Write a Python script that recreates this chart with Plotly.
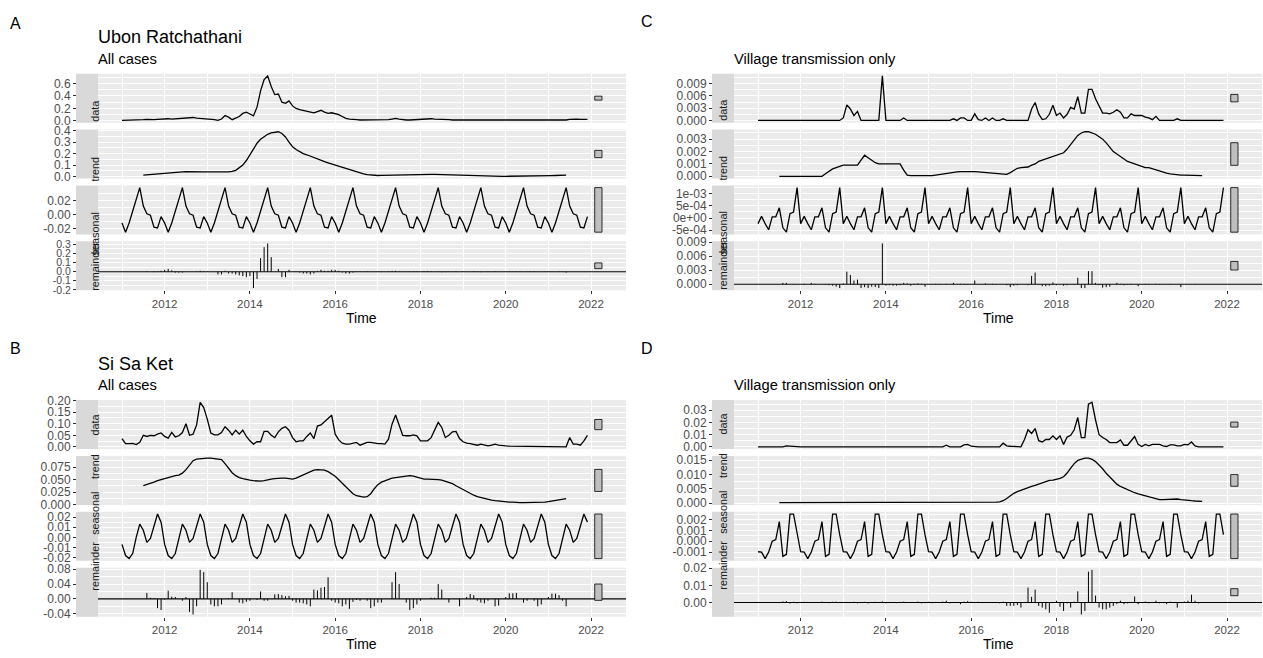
import plotly.graph_objects as go

W, H = 1263, 658
FONT = "Liberation Sans, Arial, sans-serif"

# ---------------------------------------------------------------- data
START_YEAR = 2011
N_MONTHS = 132          # Jan 2011 .. Dec 2021, monthly
PARTIAL_START = 6       # trend / remainder defined Jul 2011 .. Jun 2021
PARTIAL_END = 126

COMPONENTS = ["data", "trend", "seasonal", "remainder"]
TIME_TICKS = [2012, 2014, 2016, 2018, 2020, 2022]
TIME_TICK_TEXT = ["2012", "2014", "2016", "2018", "2020", "2022"]

# ---- A: Ubon Ratchathani, all cases
A_data = [
    0.010, 0.010, 0.010, 0.010, 0.012, 0.015, 0.020, 0.025, 0.020, 0.020, 0.025, 0.030,
    0.040, 0.035, 0.030, 0.035, 0.040, 0.035, 0.040, 0.050, 0.055, 0.045, 0.040, 0.040,
    0.040, 0.035, 0.020, 0.008, 0.030, 0.085, 0.060, 0.020, 0.040, 0.070, 0.120, 0.140,
    0.110, 0.080, 0.220, 0.480, 0.660, 0.720, 0.550, 0.420, 0.430, 0.300, 0.280, 0.320,
    0.240, 0.200, 0.180, 0.170, 0.150, 0.140, 0.130, 0.150, 0.170, 0.140, 0.120, 0.130,
    0.120, 0.100, 0.070, 0.040, 0.030, 0.020, 0.020, 0.015, 0.015, 0.015, 0.015, 0.020,
    0.020, 0.015, 0.015, 0.020, 0.030, 0.040, 0.030, 0.020, 0.015, 0.015, 0.020, 0.020,
    0.020, 0.025, 0.030, 0.035, 0.030, 0.030, 0.025, 0.020, 0.020, 0.015, 0.015, 0.012,
    0.010, 0.010, 0.010, 0.010, 0.010, 0.010, 0.010, 0.010, 0.010, 0.010, 0.008, 0.008,
    0.008, 0.008, 0.008, 0.008, 0.008, 0.008, 0.008, 0.008, 0.008, 0.008, 0.008, 0.008,
    0.010, 0.010, 0.012, 0.015, 0.015, 0.015, 0.025, 0.030, 0.030, 0.025, 0.020, 0.025,
]
A_trend = [
    0.014, 0.017, 0.020, 0.023, 0.026, 0.029,
    0.032, 0.035, 0.037, 0.039, 0.041, 0.042, 0.043, 0.044, 0.044, 0.044, 0.043, 0.042,
    0.041, 0.040, 0.040, 0.040, 0.041, 0.041, 0.042, 0.045, 0.055, 0.075, 0.100, 0.140,
    0.190, 0.240, 0.290, 0.325, 0.350, 0.368, 0.380, 0.388, 0.390, 0.375, 0.345, 0.300,
    0.260, 0.235, 0.215, 0.200, 0.190, 0.177, 0.165, 0.152, 0.140, 0.130, 0.120, 0.110,
    0.100, 0.090, 0.080, 0.070, 0.060, 0.050, 0.040, 0.032, 0.025, 0.018, 0.014, 0.011,
    0.010, 0.011, 0.012, 0.013, 0.014, 0.015, 0.016, 0.017, 0.018, 0.019, 0.020, 0.020,
    0.021, 0.021, 0.020, 0.020, 0.019, 0.018, 0.016, 0.015, 0.013, 0.012, 0.011, 0.010,
    0.009, 0.008, 0.007, 0.006, 0.005, 0.005, 0.004, 0.004, 0.004, 0.003, 0.003, 0.003,
    0.003, 0.003, 0.003, 0.003, 0.003, 0.003, 0.003, 0.004, 0.004, 0.005, 0.006, 0.007,
    0.008, 0.009, 0.010, 0.011, 0.012, 0.013,
]
A_seasonal = [
    -0.012, -0.025, -0.012, 0.005, 0.022, 0.038, 0.012, 0.001, -0.001, -0.018, -0.019, -0.003,
    -0.012, -0.025, -0.012, 0.005, 0.022, 0.038, 0.012, 0.001, -0.001, -0.018, -0.019, -0.003,
    -0.012, -0.025, -0.012, 0.005, 0.022, 0.038, 0.012, 0.001, -0.001, -0.018, -0.019, -0.003,
    -0.012, -0.025, -0.012, 0.005, 0.022, 0.038, 0.012, 0.001, -0.001, -0.018, -0.019, -0.003,
    -0.012, -0.025, -0.012, 0.005, 0.022, 0.038, 0.012, 0.001, -0.001, -0.018, -0.019, -0.003,
    -0.012, -0.025, -0.012, 0.005, 0.022, 0.038, 0.012, 0.001, -0.001, -0.018, -0.019, -0.003,
    -0.012, -0.025, -0.012, 0.005, 0.022, 0.038, 0.012, 0.001, -0.001, -0.018, -0.019, -0.003,
    -0.012, -0.025, -0.012, 0.005, 0.022, 0.038, 0.012, 0.001, -0.001, -0.018, -0.019, -0.003,
    -0.012, -0.025, -0.012, 0.005, 0.022, 0.038, 0.012, 0.001, -0.001, -0.018, -0.019, -0.003,
    -0.012, -0.025, -0.012, 0.005, 0.022, 0.038, 0.012, 0.001, -0.001, -0.018, -0.019, -0.003,
    -0.012, -0.025, -0.012, 0.005, 0.022, 0.038, 0.012, 0.001, -0.001, -0.018, -0.019, -0.003,
]
A_remainder = [
    0.000, 0.005, 0.000, -0.005, 0.005, 0.010,
    0.020, 0.030, 0.015, -0.010, -0.010, -0.010, 0.000, 0.003, 0.000, 0.005, 0.010, 0.005,
    0.005, 0.000, 0.000, -0.030, -0.030, 0.010, -0.020, -0.020, -0.030, -0.040, -0.050, -0.060,
    -0.050, -0.180, -0.080, 0.150, 0.270, 0.310, 0.160, 0.000, 0.030, -0.060, -0.060, 0.020,
    0.000, 0.003, -0.010, -0.020, -0.020, -0.030, -0.020, 0.010, 0.020, 0.010, 0.010, 0.020,
    0.020, 0.010, -0.010, -0.020, -0.020, -0.010, 0.005, 0.003, -0.003, 0.005, 0.003, 0.000,
    0.003, -0.005, 0.000, 0.005, 0.008, 0.010, 0.005, -0.003, 0.000, 0.003, 0.005, 0.004,
    0.003, 0.006, 0.008, 0.003, 0.000, -0.004, -0.006, -0.005, 0.005, 0.003, 0.005, 0.000,
    0.003, 0.002, 0.000, 0.005, -0.003, -0.005, 0.000, 0.003, 0.002, 0.005, 0.000, -0.003,
    0.002, 0.005, 0.004, 0.003, -0.003, 0.000, 0.002, 0.004, 0.005, 0.000, -0.002, 0.003,
    0.004, 0.003, 0.000, 0.004, -0.003, -0.010,
]
A_tickvals = [[0, 0.2, 0.4, 0.6], [0, 0.1, 0.2, 0.3, 0.4], [-0.02, 0, 0.02],
              [-0.2, -0.1, 0, 0.1, 0.2, 0.3]]
A_ticktext = [["0.0", "0.2", "0.4", "0.6"], ["0.0", "0.1", "0.2", "0.3", "0.4"],
              ["-0.02", "0.00", "0.02"], ["-0.2", "-0.1", "0.0", "0.1", "0.2", "0.3"]]

# ---- B: Si Sa Ket, all cases
B_data = [
    0.036, 0.014, 0.014, 0.015, 0.010, 0.020, 0.050, 0.045, 0.050, 0.048, 0.055, 0.060,
    0.045, 0.038, 0.063, 0.043, 0.048, 0.062, 0.100, 0.050, 0.055, 0.095, 0.193, 0.170,
    0.120, 0.060, 0.052, 0.052, 0.062, 0.087, 0.072, 0.052, 0.072, 0.055, 0.072, 0.045,
    0.026, 0.012, 0.022, 0.022, 0.067, 0.067, 0.050, 0.040, 0.065, 0.080, 0.087, 0.072,
    0.040, 0.022, 0.026, 0.026, 0.045, 0.060, 0.036, 0.090, 0.095, 0.108, 0.123, 0.137,
    0.055, 0.030, 0.016, 0.012, 0.012, 0.015, 0.019, 0.007, 0.014, 0.019, 0.019, 0.016,
    0.014, 0.014, 0.012, 0.033, 0.098, 0.138, 0.098, 0.050, 0.048, 0.048, 0.052, 0.048,
    0.026, 0.026, 0.026, 0.040, 0.070, 0.106, 0.084, 0.040, 0.050, 0.065, 0.067, 0.036,
    0.022, 0.016, 0.014, 0.012, 0.007, 0.012, 0.007, 0.004, 0.007, 0.012, 0.007, 0.007,
    0.004, 0.003, 0.003, 0.002, 0.003, 0.002, 0.002, 0.002, 0.003, 0.003, 0.002, 0.003,
    0.002, 0.003, 0.003, 0.002, 0.002, 0.000, 0.040, 0.012, 0.012, 0.007, 0.026, 0.050,
]
B_trend = [
    0.038, 0.040, 0.043, 0.045, 0.048, 0.050,
    0.053, 0.055, 0.057, 0.058, 0.059, 0.063, 0.070, 0.080, 0.088, 0.091, 0.092, 0.093,
    0.093, 0.093, 0.092, 0.092, 0.090, 0.082, 0.072, 0.064, 0.058, 0.054, 0.052, 0.050,
    0.049, 0.048, 0.047, 0.047, 0.048, 0.050, 0.051, 0.052, 0.053, 0.053, 0.053, 0.052,
    0.051, 0.053, 0.056, 0.059, 0.062, 0.066, 0.069, 0.070, 0.070, 0.069, 0.066, 0.062,
    0.057, 0.050, 0.043, 0.035, 0.028, 0.022, 0.018, 0.016, 0.015, 0.016, 0.022, 0.032,
    0.040, 0.045, 0.048, 0.051, 0.053, 0.054, 0.055, 0.056, 0.057, 0.058, 0.057, 0.055,
    0.052, 0.051, 0.051, 0.051, 0.051, 0.050, 0.049, 0.047, 0.045, 0.042, 0.038, 0.034,
    0.030, 0.026, 0.022, 0.019, 0.016, 0.014, 0.012, 0.010, 0.009, 0.008, 0.007, 0.006,
    0.006, 0.005, 0.005, 0.004, 0.004, 0.004, 0.004, 0.004, 0.004, 0.004, 0.004, 0.005,
    0.006, 0.007, 0.009, 0.010, 0.011, 0.012,
]
B_seasonal = [
    -0.007, -0.018, -0.021, -0.016, 0.000, 0.013, 0.007, -0.005, -0.001, 0.010, 0.023, 0.015,
    -0.007, -0.018, -0.021, -0.016, 0.000, 0.013, 0.007, -0.005, -0.001, 0.010, 0.023, 0.015,
    -0.007, -0.018, -0.021, -0.016, 0.000, 0.013, 0.007, -0.005, -0.001, 0.010, 0.023, 0.015,
    -0.007, -0.018, -0.021, -0.016, 0.000, 0.013, 0.007, -0.005, -0.001, 0.010, 0.023, 0.015,
    -0.007, -0.018, -0.021, -0.016, 0.000, 0.013, 0.007, -0.005, -0.001, 0.010, 0.023, 0.015,
    -0.007, -0.018, -0.021, -0.016, 0.000, 0.013, 0.007, -0.005, -0.001, 0.010, 0.023, 0.015,
    -0.007, -0.018, -0.021, -0.016, 0.000, 0.013, 0.007, -0.005, -0.001, 0.010, 0.023, 0.015,
    -0.007, -0.018, -0.021, -0.016, 0.000, 0.013, 0.007, -0.005, -0.001, 0.010, 0.023, 0.015,
    -0.007, -0.018, -0.021, -0.016, 0.000, 0.013, 0.007, -0.005, -0.001, 0.010, 0.023, 0.015,
    -0.007, -0.018, -0.021, -0.016, 0.000, 0.013, 0.007, -0.005, -0.001, 0.010, 0.023, 0.015,
    -0.007, -0.018, -0.021, -0.016, 0.000, 0.013, 0.007, -0.005, -0.001, 0.010, 0.023, 0.015,
]
B_remainder = [
    0.000, 0.016, 0.003, 0.002, -0.025, -0.030,
    -0.002, 0.022, 0.006, 0.005, 0.000, -0.005, 0.005, -0.035, -0.042, -0.020, 0.078, 0.072,
    0.045, -0.015, -0.020, -0.020, -0.015, 0.000, 0.002, 0.018, 0.000, -0.010, -0.012, -0.008,
    -0.005, 0.000, -0.003, 0.020, -0.005, -0.005, 0.000, 0.012, 0.013, 0.010, 0.007, 0.008,
    -0.005, -0.010, -0.010, -0.012, -0.015, -0.020, 0.025, 0.023, 0.030, 0.032, 0.058, -0.005,
    -0.010, -0.012, -0.020, -0.015, -0.027, -0.008, -0.003, -0.005, 0.000, -0.005, -0.025, -0.020,
    -0.010, -0.010, 0.000, 0.000, 0.045, 0.072, 0.040, 0.000, -0.010, -0.030, -0.025, -0.015,
    -0.005, 0.000, 0.000, 0.003, 0.003, 0.040, 0.025, 0.000, -0.010, 0.000, 0.000, -0.020,
    0.000, 0.005, 0.013, 0.010, -0.005, -0.010, -0.012, -0.005, 0.000, -0.020, -0.018, 0.000,
    0.005, 0.015, 0.015, 0.016, 0.000, -0.010, -0.005, 0.000, -0.005, -0.020, -0.015, 0.000,
    0.005, 0.014, 0.014, 0.010, -0.005, -0.020,
]
B_tickvals = [[0, 0.05, 0.10, 0.15, 0.20], [0, 0.025, 0.05, 0.075],
              [-0.02, -0.01, 0, 0.01, 0.02], [-0.04, 0, 0.04, 0.08]]
B_ticktext = [["0.00", "0.05", "0.10", "0.15", "0.20"], ["0.000", "0.025", "0.050", "0.075"],
              ["-0.02", "-0.01", "0.00", "0.01", "0.02"], ["-0.04", "0.00", "0.04", "0.08"]]

# ---- C: Ubon Ratchathani, village transmission only
C_data = [
    0, 0, 0, 0, 0, 0, 0, 0, 0, 0, 0, 0,
    0, 0, 0, 0, 0, 0, 0, 0, 0, 0, 0, 0,
    0.0006, 0.0038, 0.0028, 0.0012, 0.0022, 0, 0, 0, 0, 0, 0, 0.0109,
    0, 0, 0, 0, 0, 0.0006, 0, 0, 0, 0, 0, 0,
    0, 0, 0, 0, 0, 0, 0, 0.0004, 0, 0.0006, 0.0006, 0,
    0, 0.0016, 0.0002, 0, 0.0006, 0, 0.0006, 0, 0, 0.0004, 0, 0,
    0, 0, 0, 0, 0, 0.0028, 0.0044, 0.0016, 0.0002, 0.0004, 0.0015, 0.0037,
    0.0012, 0.0018, 0.0006, 0.0015, 0.0032, 0.0028, 0.0058, 0.0018, 0.0018, 0.0076, 0.0076, 0.0053,
    0.0036, 0.0018, 0.0018, 0.0016, 0.0020, 0.0026, 0.0020, 0.0006, 0.0006, 0.0016, 0.0012, 0.0012,
    0.0012, 0.0008, 0.0006, 0.0002, 0.0010, 0, 0, 0, 0, 0, 0.0004, 0,
    0, 0, 0, 0, 0, 0, 0, 0, 0, 0, 0, 0,
]
C_trend = [
    0, 0, 0, 0, 0, 0,
    0, 0, 0, 0, 0, 0, 0, 0.0002, 0.0004, 0.0006, 0.0007, 0.0008,
    0.0009, 0.0009, 0.0009, 0.0009, 0.0009, 0.0013, 0.0017, 0.0015, 0.0013, 0.0011, 0.0010, 0.0010,
    0.0010, 0.0010, 0.0010, 0.0010, 0.0010, 0.0005, 0.0001, 0.00005, 0.00005, 0.00005, 0, 0,
    0, 0.00005, 0.0001, 0.00015, 0.0002, 0.00025, 0.0003, 0.00033, 0.00035, 0.00037, 0.00038, 0.00038,
    0.00038, 0.00037, 0.00035, 0.00033, 0.0003, 0.00027, 0.00024, 0.0002, 0.00017, 0.00015, 0.00016, 0.0003,
    0.0005, 0.00065, 0.0007, 0.0007, 0.00075, 0.0009, 0.0010, 0.0012, 0.0013, 0.0014, 0.0015, 0.0016,
    0.0017, 0.0018, 0.0019, 0.0022, 0.0026, 0.0030, 0.0033, 0.0035, 0.0036, 0.0036, 0.0035, 0.0034,
    0.0032, 0.0030, 0.0027, 0.0023, 0.0020, 0.0018, 0.0016, 0.0014, 0.0012, 0.0011, 0.0010, 0.0009,
    0.0008, 0.0007, 0.0007, 0.0006, 0.0005, 0.0004, 0.0003, 0.00025, 0.0002, 0.00015, 0.0001, 0.0001,
    0.0001, 0.00008, 0.00006, 0.00005, 0.00005, 0.00005,
]
C_seasonal = [
    -0.00023, 0.00007, -0.00023, -0.00048, 0.00005, 0.00005, 0.00042, -0.0004, -0.00058, 0.00018, 0.00025, 0.00125,
    -0.00023, 0.00007, -0.00023, -0.00048, 0.00005, 0.00005, 0.00042, -0.0004, -0.00058, 0.00018, 0.00025, 0.00125,
    -0.00023, 0.00007, -0.00023, -0.00048, 0.00005, 0.00005, 0.00042, -0.0004, -0.00058, 0.00018, 0.00025, 0.00125,
    -0.00023, 0.00007, -0.00023, -0.00048, 0.00005, 0.00005, 0.00042, -0.0004, -0.00058, 0.00018, 0.00025, 0.00125,
    -0.00023, 0.00007, -0.00023, -0.00048, 0.00005, 0.00005, 0.00042, -0.0004, -0.00058, 0.00018, 0.00025, 0.00125,
    -0.00023, 0.00007, -0.00023, -0.00048, 0.00005, 0.00005, 0.00042, -0.0004, -0.00058, 0.00018, 0.00025, 0.00125,
    -0.00023, 0.00007, -0.00023, -0.00048, 0.00005, 0.00005, 0.00042, -0.0004, -0.00058, 0.00018, 0.00025, 0.00125,
    -0.00023, 0.00007, -0.00023, -0.00048, 0.00005, 0.00005, 0.00042, -0.0004, -0.00058, 0.00018, 0.00025, 0.00125,
    -0.00023, 0.00007, -0.00023, -0.00048, 0.00005, 0.00005, 0.00042, -0.0004, -0.00058, 0.00018, 0.00025, 0.00125,
    -0.00023, 0.00007, -0.00023, -0.00048, 0.00005, 0.00005, 0.00042, -0.0004, -0.00058, 0.00018, 0.00025, 0.00125,
    -0.00023, 0.00007, -0.00023, -0.00048, 0.00005, 0.00005, 0.00042, -0.0004, -0.00058, 0.00018, 0.00025, 0.00125,
]
C_remainder = [
    0.0, 0.0003, 0.0003, 0.0, -0.0001, 0.0,
    0.0, 0.0001, 0.0, 0.0003, 0.0001, 0.0, 0.0, -0.0001, -0.0002, -0.0003, -0.0005, -0.0008,
    0.0002, 0.0027, 0.0020, 0.0008, 0.0010, -0.0008, -0.0006, -0.0008, -0.0005, -0.0006, -0.0008, 0.0087,
    -0.0003, -0.0002, -0.0003, -0.0003, -0.0002, 0.0003, 0.0002, -0.0003, 0.0001, 0.0002, 0.0001, -0.0005,
    0.0, 0.0, 0.0001, -0.0001, 0.0, 0.0001, 0.0, 0.0003, 0.0, 0.0001, 0.0001, -0.0001,
    0.0, 0.0008, 0.0, 0.0, 0.0002, 0.0, 0.0001, -0.0001, 0.0, 0.0, -0.0002, -0.0006,
    -0.0003, -0.0002, 0.0, 0.0, -0.0002, 0.0018, 0.0025, -0.0001, -0.0004, -0.0004, -0.0003, 0.0004,
    -0.0002, 0.0, -0.0003, -0.0002, 0.0, -0.0001, 0.0014, -0.0008, -0.0008, 0.0028, 0.0028, 0.0003,
    -0.0002, -0.0007, -0.0006, -0.0005, 0.0, 0.0003, 0.0001, -0.0002, -0.0001, 0.0001, 0.0, -0.0004,
    0.0, 0.0001, -0.0001, 0.0, 0.0001, -0.0001, 0.0, 0.0, -0.0001, 0.0, 0.0, -0.0006,
    0.0, 0.0, 0.0, -0.0001, 0.0, 0.0,
]
C_tickvals = [[0, 0.003, 0.006, 0.009], [0, 0.001, 0.002, 0.003],
              [-0.0005, 0, 0.0005, 0.001], [0, 0.003, 0.006, 0.009]]
C_ticktext = [["0.000", "0.003", "0.006", "0.009"], ["0.000", "0.001", "0.002", "0.003"],
              ["-5e-04", "0e+00", "5e-04", "1e-03"], ["0.000", "0.003", "0.006", "0.009"]]

# ---- D: Si Sa Ket, village transmission only
D_data = [
    0, 0, 0, 0, 0, 0, 0, 0, 0.0008, 0.0005, 0, 0,
    0, 0, 0, 0, 0, 0, 0, 0, 0, 0, 0, 0,
    0, 0, 0, 0, 0, 0, 0, 0, 0, 0, 0, 0.0005,
    0, 0, 0, 0, 0, 0, 0, 0, 0, 0.0005, 0, 0,
    0, 0, 0, 0, 0, 0.0013, 0, 0, 0, 0, 0.0016, 0.0020,
    0.0005, 0, 0, 0, 0, 0, 0, 0, 0, 0.0030, 0.0008, 0.0005,
    0.0005, 0.0005, 0, 0.0060, 0.0140, 0.0110, 0.0150, 0.0050, 0.0040, 0.0060, 0.0060, 0.0090,
    0.0060, 0.0090, 0.0020, 0.0080, 0.0095, 0.0140, 0.0240, 0.0076, 0.0076, 0.0350, 0.0365, 0.0220,
    0.0100, 0.0076, 0.0060, 0.0035, 0.0035, 0.0035, 0.0057, 0.0013, 0.0013, 0.0050, 0.0084, 0.0020,
    0.0003, 0.0020, 0.0008, 0.0020, 0.0020, 0.0020, 0.0008, 0.0003, 0.0016, 0.0016, 0.0008, 0.0008,
    0.0020, 0.0016, 0.0040, 0.0008, 0, 0, 0, 0, 0, 0, 0, 0,
]
D_trend = [
    0.0001, 0.0001, 0.0001, 0.0001, 0.0001, 0.0001,
    0.0001, 0.0001, 0.0001, 0.0001, 0.0001, 0.0001, 0.0001, 0.0001, 0.0001, 0.0001, 0.0001, 0.0001,
    0.0001, 0.0001, 0.0001, 0.0001, 0.0001, 0.0001, 0.0001, 0.0001, 0.0001, 0.0001, 0.0001, 0.0001,
    0.0001, 0.0001, 0.0001, 0.0001, 0.0001, 0.0001, 0.0001, 0.0001, 0.0001, 0.0001, 0.00015, 0.0002,
    0.0002, 0.00025, 0.0003, 0.0003, 0.0003, 0.0003, 0.0003, 0.0003, 0.0003, 0.0003, 0.0003, 0.0003,
    0.0003, 0.0003, 0.0003, 0.0003, 0.0003, 0.0003, 0.0003, 0.0003, 0.0004, 0.0008, 0.0016, 0.0026,
    0.0034, 0.0040, 0.0045, 0.0050, 0.0054, 0.0058, 0.0062, 0.0066, 0.0071, 0.0076, 0.0079, 0.0080,
    0.0082, 0.0086, 0.0092, 0.0105, 0.0122, 0.0138, 0.0149, 0.0154, 0.0157, 0.0157, 0.0153, 0.0145,
    0.0134, 0.0120, 0.0104, 0.0090, 0.0076, 0.0066, 0.0058, 0.0052, 0.0046, 0.0041, 0.0036, 0.0032,
    0.0029, 0.0026, 0.0023, 0.0020, 0.0016, 0.0012, 0.0012, 0.0013, 0.0014, 0.0015, 0.0014, 0.0012,
    0.0010, 0.0009, 0.0008, 0.0007, 0.0006, 0.0006,
]
D_seasonal = [
    -0.00097, -0.001, -0.0016, -0.001, 0.0, 0.00015, 0.0018, -0.0014, -0.0012, 0.0025, 0.0025, 0.0006,
    -0.00097, -0.001, -0.0016, -0.001, 0.0, 0.00015, 0.0018, -0.0014, -0.0012, 0.0025, 0.0025, 0.0006,
    -0.00097, -0.001, -0.0016, -0.001, 0.0, 0.00015, 0.0018, -0.0014, -0.0012, 0.0025, 0.0025, 0.0006,
    -0.00097, -0.001, -0.0016, -0.001, 0.0, 0.00015, 0.0018, -0.0014, -0.0012, 0.0025, 0.0025, 0.0006,
    -0.00097, -0.001, -0.0016, -0.001, 0.0, 0.00015, 0.0018, -0.0014, -0.0012, 0.0025, 0.0025, 0.0006,
    -0.00097, -0.001, -0.0016, -0.001, 0.0, 0.00015, 0.0018, -0.0014, -0.0012, 0.0025, 0.0025, 0.0006,
    -0.00097, -0.001, -0.0016, -0.001, 0.0, 0.00015, 0.0018, -0.0014, -0.0012, 0.0025, 0.0025, 0.0006,
    -0.00097, -0.001, -0.0016, -0.001, 0.0, 0.00015, 0.0018, -0.0014, -0.0012, 0.0025, 0.0025, 0.0006,
    -0.00097, -0.001, -0.0016, -0.001, 0.0, 0.00015, 0.0018, -0.0014, -0.0012, 0.0025, 0.0025, 0.0006,
    -0.00097, -0.001, -0.0016, -0.001, 0.0, 0.00015, 0.0018, -0.0014, -0.0012, 0.0025, 0.0025, 0.0006,
    -0.00097, -0.001, -0.0016, -0.001, 0.0, 0.00015, 0.0018, -0.0014, -0.0012, 0.0025, 0.0025, 0.0006,
]
D_remainder = [
    0.0, 0.0006, 0.0008, -0.0006, 0.0004, -0.0005,
    0.0002, 0.0004, 0.0003, -0.0002, 0.0002, 0.0, 0.0005, 0.0003, -0.0004, 0.0004, 0.0005, 0.0002,
    -0.0003, 0.0003, 0.0002, 0.0004, -0.0005, 0.0002, 0.0004, -0.0006, 0.0003, 0.0004, 0.0002, 0.0006,
    -0.0005, 0.0003, 0.0002, -0.0004, 0.0003, 0.0005, -0.0003, 0.0002, 0.0002, 0.0005, -0.0005, 0.0003,
    0.0004, -0.0004, 0.0003, 0.0002, 0.0005, 0.0010, -0.0005, 0.0002, 0.0003, -0.0010, 0.0005, 0.0008,
    0.0005, -0.0003, 0.0004, 0.0002, 0.0, 0.0002, 0.0002, 0.0, -0.0005, 0.0005, -0.0020, -0.0020,
    -0.0020, -0.0015, -0.0030, 0.0, 0.0087, 0.0033, 0.0075, -0.0020, -0.0030, -0.0040, -0.0060, 0.0,
    0.0010, -0.0025, -0.0050, -0.0005, -0.0030, 0.0005, 0.0065, -0.0070, -0.0050, 0.0180, 0.0190, 0.0040,
    -0.0030, -0.0040, -0.0040, -0.0030, -0.0020, -0.0010, 0.0010, -0.0010, -0.0005, 0.0, 0.0035, -0.0010,
    0.0, 0.0005, -0.0005, 0.0, 0.0010, -0.0005, 0.0, -0.0010, 0.0005, 0.0, -0.0030, 0.0,
    0.0005, 0.0010, 0.0045, 0.0010, -0.0005, 0.0,
]
D_tickvals = [[0, 0.01, 0.02, 0.03], [0, 0.005, 0.010, 0.015],
              [-0.001, 0, 0.001, 0.002], [0, 0.01, 0.02]]
D_ticktext = [["0.00", "0.01", "0.02", "0.03"], ["0.000", "0.005", "0.010", "0.015"],
              ["-0.001", "0.000", "0.001", "0.002"], ["0.00", "0.01", "0.02"]]

# ---------------------------------------------------------------- layout (px)
panels = [
    dict(letter="A", title="Ubon Ratchathani", subtitle="All cases",
         series=[A_data, A_trend, A_seasonal, A_remainder],
         tickvals=A_tickvals, ticktext=A_ticktext, x0=98, x1=626, top=69, lx=15, ly=18,
         tick_sizes=[12, 12, 12, 10.5]),
    dict(letter="B", title="Si Sa Ket", subtitle="All cases",
         series=[B_data, B_trend, B_seasonal, B_remainder],
         tickvals=B_tickvals, ticktext=B_ticktext, x0=98, x1=626, top=402, lx=15, ly=349,
         tick_sizes=[12, 12, 12, 12]),
    dict(letter="C", title="", subtitle="Village transmission only",
         series=[C_data, C_trend, C_seasonal, C_remainder],
         tickvals=C_tickvals, ticktext=C_ticktext, x0=734, x1=1262, top=69, lx=647, ly=16,
         tick_sizes=[12, 12, 12, 12]),
    dict(letter="D", title="", subtitle="Village transmission only",
         series=[D_data, D_trend, D_seasonal, D_remainder],
         tickvals=D_tickvals, ticktext=D_ticktext, x0=734, x1=1262, top=402, lx=647, ly=349,
         tick_sizes=[12, 12, 12, 12]),
]

STRIP_W = 22
FACET_H = 50
FACET_STEP = 57
XTICK_FONT = dict(family=FONT, size=11.5, color="#4D4D4D")


def px_x(p):
    return p / W


def px_y(p):
    return 1 - p / H


months = [START_YEAR + i / 12 for i in range(N_MONTHS)]
partial_months = months[PARTIAL_START:PARTIAL_END]
x_first, x_last = months[0], months[-1]
bar_w = (x_last - x_first) / 64
x_hi_data = x_last + 2 * bar_w
x_pad = 0.05 * (x_hi_data - x_first)
x_range = [x_first - x_pad, x_hi_data + x_pad]

fig = go.Figure()
layout = dict(
    width=W, height=H, margin=dict(l=0, r=0, t=0, b=0),
    paper_bgcolor="white", plot_bgcolor="#EBEBEB",
    showlegend=False, font=dict(family=FONT), hovermode=False,
)
shapes, annotations = [], []

for p_i, p in enumerate(panels):
    xs_list = [months, partial_months, months, partial_months]
    comp_ranges = [(min(v), max(v)) for v in p["series"]]
    bar_len = min(hi - lo for lo, hi in comp_ranges)

    for k, comp in enumerate(COMPONENTS):
        n = p_i * 4 + k + 1
        sfx = "" if n == 1 else str(n)
        top = p["top"] + k * FACET_STEP
        bot = top + FACET_H
        vals = p["series"][k]
        xs = xs_list[k]
        lo, hi = comp_ranges[k]
        if comp == "remainder":
            lo, hi = min(lo, 0), max(hi, 0)
        pad = 0.05 * (hi - lo)
        tv = p["tickvals"][k]
        step = tv[1] - tv[0]

        if comp == "remainder":
            sx, sy = [], []
            for x, v in zip(xs, vals):
                sx += [x, x, None]
                sy += [0, v, None]
            fig.add_trace(go.Scatter(x=sx, y=sy, mode="lines",
                                     line=dict(color="black", width=1.0),
                                     xaxis="x" + sfx, yaxis="y" + sfx))
            shapes.append(dict(type="line", xref="x%s domain" % sfx, yref="y" + sfx,
                               x0=0, x1=1, y0=0, y1=0,
                               line=dict(color="black", width=1.1)))
        else:
            fig.add_trace(go.Scatter(x=xs, y=vals, mode="lines",
                                     line=dict(color="black", width=1.3),
                                     xaxis="x" + sfx, yaxis="y" + sfx))

        # range bar (same absolute length in every facet of a panel)
        mid = (comp_ranges[k][0] + comp_ranges[k][1]) / 2
        shapes.append(dict(type="rect", xref="x" + sfx, yref="y" + sfx,
                           x0=x_last + bar_w, x1=x_last + 2 * bar_w,
                           y0=mid - bar_len / 2, y1=mid + bar_len / 2,
                           fillcolor="#BFBFBF", line=dict(color="black", width=0.8)))

        bottom_facet = (k == len(COMPONENTS) - 1)
        layout["xaxis" + sfx] = dict(
            domain=[px_x(p["x0"]), px_x(p["x1"])], anchor="y" + sfx,
            range=x_range, tickmode="array", tickvals=TIME_TICKS, ticktext=TIME_TICK_TEXT,
            showticklabels=bottom_facet, ticks="outside" if bottom_facet else "",
            ticklen=3, tickwidth=1, tickcolor="#333333", tickfont=XTICK_FONT,
            showgrid=True, gridcolor="white", gridwidth=1.1,
            minor=dict(dtick=1, tick0=2011, showgrid=True, gridcolor="white", gridwidth=0.55),
            zeroline=False, showline=False, fixedrange=True,
        )
        layout["yaxis" + sfx] = dict(
            domain=[px_y(bot), px_y(top)], anchor="free",
            position=px_x(p["x0"] - STRIP_W),
            range=[lo - pad, hi + pad], tickmode="array",
            tickvals=tv, ticktext=p["ticktext"][k],
            ticks="outside", ticklen=3, tickwidth=1, tickcolor="#333333",
            tickfont=dict(family=FONT, size=p["tick_sizes"][k], color="#4D4D4D"),
            showgrid=True, gridcolor="white", gridwidth=1.1,
            minor=dict(dtick=step / 2, tick0=0, showgrid=True, gridcolor="white", gridwidth=0.55),
            zeroline=False, showline=False, fixedrange=True,
        )

        # facet strip on the left
        shapes.append(dict(type="rect", xref="paper", yref="paper",
                           x0=px_x(p["x0"] - STRIP_W), x1=px_x(p["x0"]),
                           y0=px_y(bot), y1=px_y(top),
                           fillcolor="#D9D9D9", line=dict(width=0), layer="below"))
        annotations.append(dict(text=comp, xref="paper", yref="paper",
                                x=px_x(p["x0"] - STRIP_W / 2), y=px_y((top + bot) / 2),
                                textangle=-90, showarrow=False,
                                font=dict(family=FONT, size=10.8, color="#1A1A1A")))

    # titles, panel letter, axis title
    if p["title"]:
        annotations.append(dict(text=p["title"], xref="paper", yref="paper",
                                x=px_x(p["x0"] - 2), y=px_y(p["top"] - 37),
                                xanchor="left", yanchor="middle", showarrow=False,
                                font=dict(family=FONT, size=18, color="black")))
    annotations.append(dict(text=p["subtitle"], xref="paper", yref="paper",
                            x=px_x(p["x0"] - 2), y=px_y(p["top"] - 15),
                            xanchor="left", yanchor="middle", showarrow=False,
                            font=dict(family=FONT, size=14.7, color="black")))
    annotations.append(dict(text=p["letter"], xref="paper", yref="paper",
                            x=px_x(p["lx"]), y=px_y(p["ly"]),
                            xanchor="center", yanchor="middle", showarrow=False,
                            font=dict(family=FONT, size=16, color="black")))
    annotations.append(dict(text="Time", xref="paper", yref="paper",
                            x=px_x((p["x0"] + p["x1"]) / 2), y=px_y(p["top"] + 249),
                            xanchor="center", yanchor="middle", showarrow=False,
                            font=dict(family=FONT, size=14, color="black")))

layout["shapes"] = shapes
layout["annotations"] = annotations
fig.update_layout(**layout)
fig.update_traces(showlegend=False, hoverinfo="skip")
fig.write_html("out.html", config={"displayModeBar": False},
               post_script="document.body.style.margin='0px';")
